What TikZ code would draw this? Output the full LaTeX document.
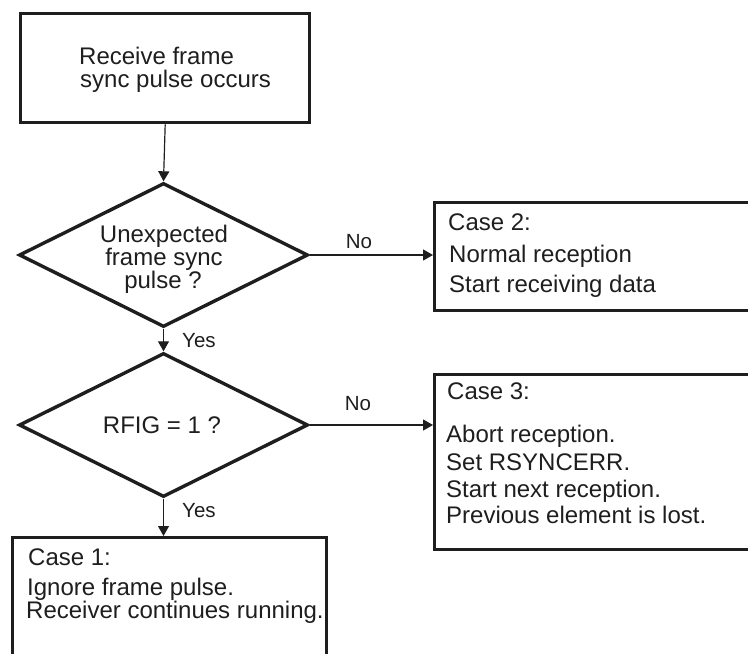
\documentclass[tikz,border=0pt]{standalone}
\usepackage{fontspec}
\setmainfont{Liberation Sans}
\usetikzlibrary{shapes.geometric,arrows.meta}
\definecolor{ink}{HTML}{1E1E1E}
\begin{document}
\begin{tikzpicture}[x=1pt,y=-1pt,
  box/.style={draw=ink,line width=3.4pt,rectangle,inner sep=0pt,anchor=north west},
  dec/.style={draw=ink,line width=3.4pt,diamond,inner sep=0pt,minimum width=289pt,minimum height=144pt},
  txt/.style={anchor=base west,inner sep=0pt,font=\fontsize{24}{24}\selectfont,text=ink},
  ctxt/.style={anchor=base,inner sep=0pt,font=\fontsize{24}{24}\selectfont,text=ink},
  lbl/.style={inner sep=0pt,font=\fontsize{20.5}{20.5}\selectfont,text=ink},
  conn/.style={draw=ink,line width=1.2pt,-{Triangle[length=10pt,width=11pt]}}]
\useasboundingbox (0,0) rectangle (748,654);
\clip (0,0) rectangle (748,654);
% shapes
\node[box,minimum width=289pt,minimum height=109pt] (start) at (19,12) {};
\node[dec] (d1) at (163.5,255) {};
\node[dec] (d2) at (163.5,425) {};
\node[box,minimum width=400pt,minimum height=108pt] (c2) at (433,201) {};
\node[box,minimum width=400pt,minimum height=175pt] (c3) at (433,373) {};
\node[box,minimum width=314pt,minimum height=200pt] (c1) at (11,536) {};
% connectors
\draw[conn] (start.south) -- (d1.north);
\draw[conn] (d1.east) -- (d1.east -| c2.west);
\draw[conn] (d1.south) -- (d2.north);
\draw[conn] (d2.east) -- (d2.east -| c3.west);
\draw[conn] (d2.south) -- (d2.south |- c1.north);
% labels
\node[lbl,anchor=base] (no1) at (359,248) {No};
\node[lbl,anchor=base] (no2) at (358,410) {No};
\node[lbl,anchor=base west] (yes1) at (182,347) {Yes};
\node[lbl,anchor=base west] (yes2) at (182,517) {Yes};
% texts
\node[txt] (t1a) at (79,64) {Receive frame};
\node[txt] (t1b) at (80,87) {sync pulse occurs};
\node[ctxt] (t2a) at (164,242) {Unexpected};
\node[ctxt] (t2b) at (164,265) {frame sync};
\node[ctxt] (t2c) at (163,288) {pulse ?};
\node[ctxt] (t3a) at (162,433) {RFIG = 1 ?};
\node[txt] (c2a) at (448,230) {Case 2:};
\node[txt] (c2b) at (449,262) {Normal reception};
\node[txt] (c2c) at (449,292) {Start receiving data};
\node[txt] (c3a) at (447,399) {Case 3:};
\node[txt] (c3b) at (446,442) {Abort reception.};
\node[txt] (c3c) at (446,470) {Set RSYNCERR.};
\node[txt] (c3d) at (446,497) {Start next reception.};
\node[txt] (c3e) at (446,523) {Previous element is lost.};
\node[txt] (c1a) at (28,565) {Case 1:};
\node[txt] (c1b) at (27,595) {Ignore frame pulse.};
\node[txt] (c1c) at (26,618) {Receiver continues running.};
\end{tikzpicture}
\end{document}
